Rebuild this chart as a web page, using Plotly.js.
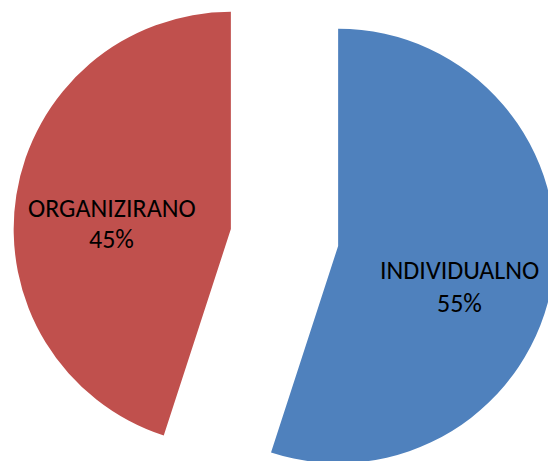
<!DOCTYPE html>
<html>
<head>
<meta charset="utf-8">
<script src="https://cdn.plot.ly/plotly-3.0.1.min.js"></script>
<style>
  html, body { margin: 0; padding: 0; width: 548px; height: 461px; overflow: hidden; background: #fff; }
  #chart { position: absolute; left: 13px; top: -34px; width: 543px; height: 543px; }
</style>
</head>
<body>
<div id="chart"></div>
<script>
const categories = ['INDIVIDUALNO', 'ORGANIZIRANO'];
const values = [55, 45];
const colors = ['#4F81BD', '#C0504D'];

const SIZE = 543, OFFX = 13, OFFY = -34;
function paper(px, py) { return { x: (px - OFFX) / SIZE, y: 1 - (py - OFFY) / SIZE }; }

const total = values.reduce((a, b) => a + b, 0);
const pct = values.map(v => Math.round(v / total * 100) + '%');

// label anchor centers (page pixels) for name line and percent line
const labelPos = [
  { name: [459.5, 269.5], pct: [459.5, 302.5] },
  { name: [112, 208], pct: [111, 238.5] }
];

const annotations = [];
categories.forEach((c, i) => {
  const a = paper(labelPos[i].name[0], labelPos[i].name[1]);
  const b = paper(labelPos[i].pct[0], labelPos[i].pct[1]);
  const font = { family: 'Carlito, "Open Sans", sans-serif', size: 26, color: '#000000' };
  annotations.push({ xref: 'paper', yref: 'paper', x: a.x, y: a.y, xanchor: 'center', yanchor: 'middle', text: c, showarrow: false, font });
  annotations.push({ xref: 'paper', yref: 'paper', x: b.x, y: b.y, xanchor: 'center', yanchor: 'middle', text: pct[i], showarrow: false, font });
});

const data = [{
  type: 'pie',
  labels: categories,
  values: values,
  marker: { colors: colors, line: { width: 0 } },
  sort: false,
  direction: 'clockwise',
  rotation: 0,
  pull: [0.25, 0.25],
  textinfo: 'none',
  hoverinfo: 'label+percent',
  domain: { x: [0, 1], y: [0, 1] }
}];

const layout = {
  width: SIZE, height: SIZE,
  margin: { l: 0, r: 0, t: 0, b: 0, pad: 0 },
  showlegend: false,
  paper_bgcolor: 'rgba(0,0,0,0)',
  plot_bgcolor: 'rgba(0,0,0,0)',
  annotations: annotations
};

Plotly.newPlot('chart', data, layout, { displayModeBar: false, staticPlot: true });
</script>
</body>
</html>
